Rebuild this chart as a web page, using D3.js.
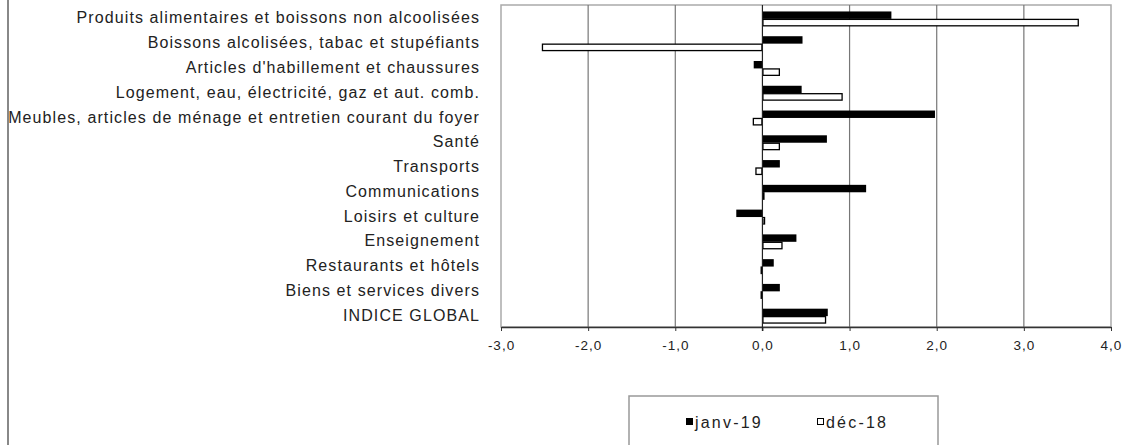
<!DOCTYPE html>
<html><head><meta charset="utf-8">
<script src="https://cdn.jsdelivr.net/npm/d3@7"></script>
<style>
html,body{margin:0;padding:0;background:#fff;}
text{font-family:"Liberation Sans",Arial,sans-serif;fill:#222;}
</style></head>
<body><svg id="c" width="1129" height="445"></svg>
<script>
const categories = [
  "Produits alimentaires et boissons non alcoolisées",
  "Boissons alcolisées, tabac et stupéfiants",
  "Articles d'habillement et chaussures",
  "Logement, eau, électricité, gaz et aut. comb.",
  "Meubles, articles de ménage et entretien courant du foyer",
  "Santé",
  "Transports",
  "Communications",
  "Loisirs et culture",
  "Enseignement",
  "Restaurants et hôtels",
  "Biens et services divers",
  "INDICE GLOBAL"
];
const seriesNames = ["janv-19", "déc-18"];
const janv19 = [1.48, 0.46, -0.10, 0.45, 1.98, 0.74, 0.20, 1.19, -0.30, 0.39, 0.13, 0.20, 0.75];
const dec18  = [3.63, -2.53, 0.20, 0.92, -0.11, 0.20, -0.08, 0.02, 0.03, 0.23, -0.02, -0.02, 0.73];
const xTicks = [-3, -2, -1, 0, 1, 2, 3, 4];

const svg = d3.select("#c");
const L = 501, R = 1111, T = 5, B = 327;
const x = d3.scaleLinear().domain([-3, 4]).range([L, R]);
const y = d3.scaleBand().domain(categories).range([T + 1.5, B + 1.5]).paddingInner(0.4).paddingOuter(0.2);
const sub = d3.scaleBand().domain(seriesNames).range([0, y.bandwidth()]);
const fmt = v => d3.format(".1f")(v).replace("−", "-").replace(".", ",");

// outer left border
svg.append("line").attr("x1", 8).attr("x2", 8).attr("y1", 0).attr("y2", 445)
  .attr("stroke", "#888").attr("stroke-width", 2);

// plot border
svg.append("rect").attr("x", L).attr("y", T).attr("width", R - L).attr("height", B - T)
  .attr("fill", "#fff").attr("stroke", "#aaa").attr("stroke-width", 1.5);

// gridlines
svg.append("g").selectAll("line").data(xTicks.filter(d => d !== -3 && d !== 0 && d !== 4)).join("line")
  .attr("x1", d => x(d)).attr("x2", d => x(d)).attr("y1", T).attr("y2", B)
  .attr("stroke", "#777").attr("stroke-width", 1.2);

// x axis
const xa = svg.append("g").attr("transform", `translate(0,${B})`)
  .call(d3.axisBottom(x).tickValues(xTicks).tickFormat(fmt).tickSize(4).tickSizeOuter(0));
xa.select(".domain").attr("stroke", "#333").attr("stroke-width", 1.3);
xa.selectAll(".tick line").attr("stroke", "#333");
xa.selectAll("text").attr("font-size", 13.5).attr("dy", "1.15em").attr("fill", "#333")
  .attr("font-family", "'Liberation Sans',Arial,sans-serif").attr("letter-spacing", "1px");

// bars
const rows = categories.map((c, i) => ({c, vals: [janv19[i], dec18[i]]}));
const g = svg.append("g");
rows.forEach(r => {
  r.vals.forEach((v, k) => {
    const s = seriesNames[k];
    g.append("rect")
      .attr("x", x(Math.min(0, v)) + (k === 1 ? 0.5 : 0))
      .attr("y", y(r.c) + sub(s) + (k === 1 ? 0.5 : 0))
      .attr("width", Math.max(Math.abs(x(v) - x(0)) - (k === 1 ? 1 : 0), k === 1 ? 1 : 0.5))
      .attr("height", sub.bandwidth() - (k === 1 ? 1 : 0))
      .attr("fill", k === 0 ? "#000" : "#fff")
      .attr("stroke", k === 0 ? "none" : "#000")
      .attr("stroke-width", k === 1 ? 1.3 : 0);
  });
});

// zero axis line
svg.append("line").attr("x1", x(0)).attr("x2", x(0)).attr("y1", T).attr("y2", B + 4)
  .attr("stroke", "#222").attr("stroke-width", 1.2);

// category labels
svg.append("g").selectAll("text").data(categories).join("text")
  .attr("x", 480).attr("y", d => y(d) + y.bandwidth() / 2 - 1)
  .attr("dy", "0.35em").attr("text-anchor", "end")
  .attr("font-size", 16).attr("letter-spacing", "1.1px")
  .text(d => d);

// legend
const lg = svg.append("g");
lg.append("rect").attr("x", 629).attr("y", 396).attr("width", 309).attr("height", 60)
  .attr("fill", "#fff").attr("stroke", "#999").attr("stroke-width", 1.5);
const legX = [686, 817];
seriesNames.forEach((s, k) => {
  lg.append("rect").attr("x", legX[k] + 0.5).attr("y", 418.5).attr("width", 6).attr("height", 6)
    .attr("fill", k === 0 ? "#000" : "#fff").attr("stroke", "#000").attr("stroke-width", 1);
  lg.append("text").attr("x", legX[k] + 9).attr("y", 422).attr("dy", "0.35em")
    .attr("font-size", 16).attr("letter-spacing", "2.2px").text(s);
});
</script></body></html>
